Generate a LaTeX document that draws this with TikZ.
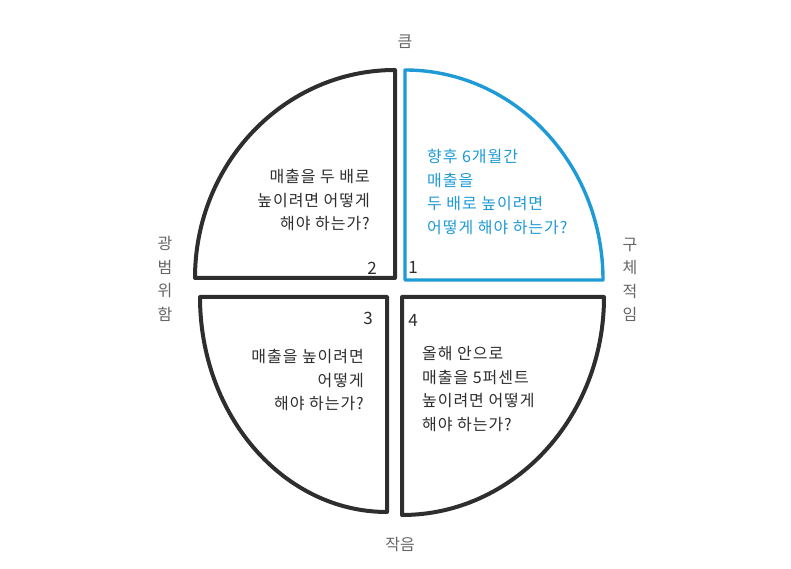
\documentclass[tikz,border=0pt]{standalone}
\usepackage{fontspec}
\newfontfamily\kr[LetterSpace=6]{Noto Sans CJK KR}
\newfontfamily\krnum{Noto Sans CJK KR}
\definecolor{ink}{HTML}{2E2E2E}
\definecolor{blueink}{HTML}{1E9AD6}
\definecolor{labelgray}{HTML}{666666}
\begin{document}
\begin{tikzpicture}[x=1pt,y=1pt,
  quad/.style={draw=ink,line width=4pt,line join=round,fill=white},
  bluequad/.style={draw=blueink,line width=3.4pt,line join=round,fill=white},
  qtext/.style={inner sep=0pt,text=ink,font=\kr\fontsize{16}{23.5}\selectfont},
  btext/.style={inner sep=0pt,text=blueink,font=\kr\fontsize{16}{23.5}\selectfont},
  num/.style={inner sep=0pt,text=ink,font=\krnum\fontsize{17}{17}\selectfont},
  axis/.style={inner sep=0pt,text=labelgray,font=\krnum\fontsize{16}{23.5}\selectfont,align=center}]
\useasboundingbox (0,0) rectangle (791,569);
% quadrant 2 (top-left)
\draw[quad] (395,291) -- (395,499) arc[start angle=90,end angle=180,x radius=200,y radius=208] -- cycle;
% quadrant 1 (top-right)
\draw[bluequad] (405,289) -- (603,289) arc[start angle=0,end angle=90,x radius=198,y radius=210] -- cycle;
% quadrant 3 (bottom-left)
\draw[quad] (387,272) -- (200,272) arc[start angle=180,end angle=270,x radius=187,y radius=215] -- cycle;
% quadrant 4 (bottom-right)
\draw[quad] (402,272) -- (402,54) arc[start angle=270,end angle=360,x radius=202,y radius=218] -- cycle;
% texts
\node[qtext,align=right,anchor=east] (t2) at (370,369) {매출을 두 배로\\높이려면 어떻게\\해야 하는가?};
\node[btext,align=left,anchor=west] (t1) at (427,377) {향후 6개월간\\매출을\\두 배로 높이려면\\어떻게 해야 하는가?};
\node[qtext,align=right,anchor=east] (t3) at (364,189) {매출을 높이려면\\어떻게\\해야 하는가?};
\node[qtext,align=left,anchor=west] (t4) at (422,180) {올해 안으로\\매출을 5퍼센트\\높이려면 어떻게\\해야 하는가?};
% numbers
\node[num] (n1) at (413,302) {1};
\node[num] (n2) at (372,301) {2};
\node[num] (n3) at (368,251) {3};
\node[num] (n4) at (413,249) {4};
% axis labels
\node[axis] (big) at (405,527) {큼};
\node[axis] (small) at (400,24) {작음};
\node[axis] (broad) at (165,290) {광\\범\\위\\함};
\node[axis] (spec) at (630,289) {구\\체\\적\\임};
\end{tikzpicture}
\end{document}
